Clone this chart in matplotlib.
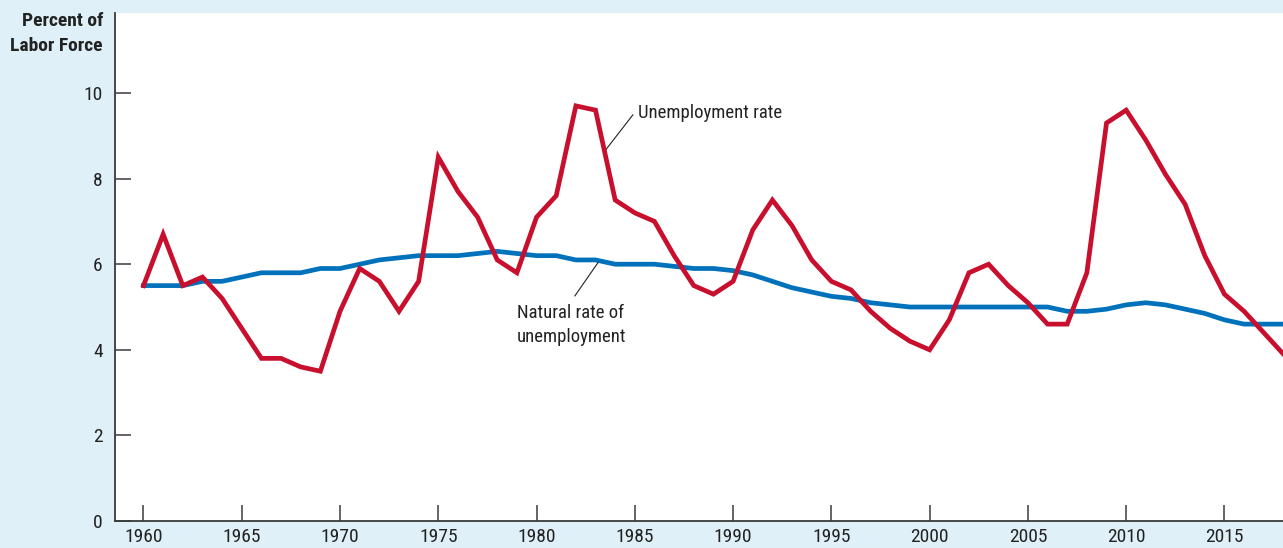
import matplotlib
matplotlib.use("Agg")
import matplotlib.pyplot as plt
from matplotlib import font_manager

years = list(range(1960, 2019))
unemployment = [5.5, 6.7, 5.5, 5.7, 5.2, 4.5, 3.8, 3.8, 3.6, 3.5,
                4.9, 5.9, 5.6, 4.9, 5.6, 8.5, 7.7, 7.1, 6.1, 5.8,
                7.1, 7.6, 9.7, 9.6, 7.5, 7.2, 7.0, 6.2, 5.5, 5.3,
                5.6, 6.8, 7.5, 6.9, 6.1, 5.6, 5.4, 4.9, 4.5, 4.2,
                4.0, 4.7, 5.8, 6.0, 5.5, 5.1, 4.6, 4.6, 5.8, 9.3,
                9.6, 8.9, 8.1, 7.4, 6.2, 5.3, 4.9, 4.4, 3.9]
natural = [5.5, 5.5, 5.5, 5.6, 5.6, 5.7, 5.8, 5.8, 5.8, 5.9,
           5.9, 6.0, 6.1, 6.15, 6.2, 6.2, 6.2, 6.25, 6.3, 6.25,
           6.2, 6.2, 6.1, 6.1, 6.0, 6.0, 6.0, 5.95, 5.9, 5.9,
           5.85, 5.75, 5.6, 5.45, 5.35, 5.25, 5.2, 5.1, 5.05, 5.0,
           5.0, 5.0, 5.0, 5.0, 5.0, 5.0, 5.0, 4.9, 4.9, 4.95,
           5.05, 5.1, 5.05, 4.95, 4.85, 4.7, 4.6, 4.6, 4.6]
xticks = list(range(1960, 2016, 5))
yticks = [0, 2, 4, 6, 8, 10]

avail = {f.name for f in font_manager.fontManager.ttflist}
fam = [f for f in ["Liberation Sans Narrow", "DejaVu Sans Condensed", "Roboto Condensed"] if f in avail] + ["DejaVu Sans"]
plt.rcParams['font.family'] = fam

bg = "#dff0f8"
red = "#c8102e"
blue = "#0072bc"
axc = "#3a3a3a"

fig = plt.figure(figsize=(12.83, 5.48), dpi=100, facecolor=bg)
ax = fig.add_axes([115/1283, 27/548, 1 - 115/1283, (521-13)/548])
ax.set_facecolor("white")

ax.plot(years, natural, color=blue, lw=3.4, solid_joinstyle="round", zorder=2)
ax.plot(years, unemployment, color=red, lw=3.4, solid_joinstyle="miter", zorder=3)

ax.set_xlim(1958.55, 2017.98)
ax.set_ylim(0, 11.87)
for s in ["top", "right"]:
    ax.spines[s].set_visible(False)
for s in ["left", "bottom"]:
    ax.spines[s].set_color(axc)
    ax.spines[s].set_linewidth(1.3)
ax.set_xticks(xticks)
ax.set_yticks(yticks)
ax.tick_params(axis="both", direction="in", length=11.5, width=1.1, color=axc,
               labelsize=14, labelcolor="#222222")
ax.tick_params(axis="x", pad=5)
ax.tick_params(axis="y", pad=9)

fig.text(103/1283, 1 - 33.5/548, "Percent of\nLabor Force", ha="right", va="center",
         fontsize=14, fontweight="bold", color="#222222", linespacing=1.45)

ax.text(1985.15, 9.53, "Unemployment rate", fontsize=13.5, color="#222222",
        ha="left", va="center")
ax.plot([1984.9, 1983.43], [9.49, 8.62], color="#222222", lw=0.8)
ax.text(1979.0, 4.58, "Natural rate of\nunemployment", fontsize=13.5, color="#222222",
        ha="left", va="center", linespacing=1.45)
ax.plot([1981.95, 1983.13], [5.26, 6.04], color="#222222", lw=0.8)

fig.savefig("out.png", dpi=100, facecolor=bg)
